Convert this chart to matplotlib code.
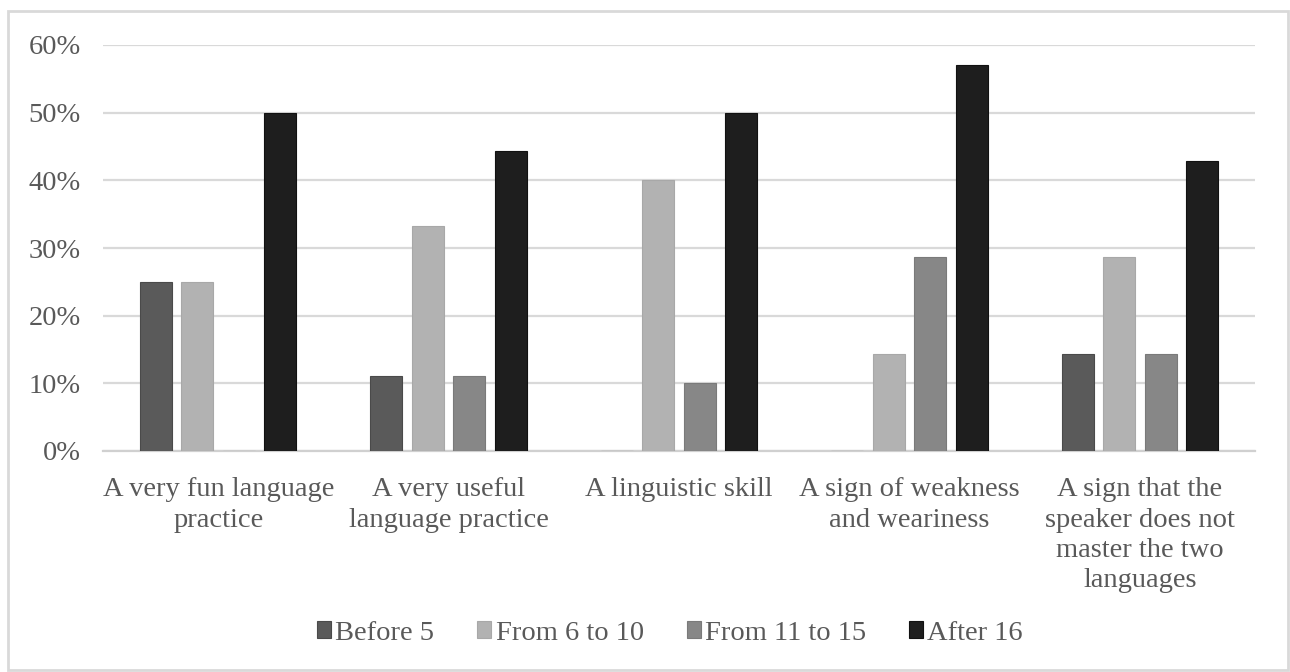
import matplotlib.pyplot as plt
import numpy as np
from matplotlib.patches import Rectangle

plt.rcParams['font.family'] = ['Liberation Serif', 'DejaVu Serif']

categories = ['A very fun language\npractice',
              'A very useful\nlanguage practice',
              'A linguistic skill',
              'A sign of weakness\nand weariness',
              'A sign that the\nspeaker does not\nmaster the two\nlanguages']
series = ['Before 5', 'From 6 to 10', 'From 11 to 15', 'After 16']
before_5 = [25.0, 11.1, 0.0, 0.0, 14.3]
from_6_10 = [25.0, 33.3, 40.0, 14.3, 28.6]
from_11_15 = [0.0, 11.1, 10.0, 28.6, 14.3]
after_16 = [50.0, 44.4, 50.0, 57.1, 42.9]
colors = ['#5a5a5a', '#b2b2b2', '#878787', '#1e1e1e']
edges = ['#4a4a4a', '#a8a8a8', '#7a7a7a', '#111111']

fig = plt.figure(figsize=(12.9, 6.72), dpi=100)
ax = fig.add_axes([103 / 1290, 1 - 451 / 672, 1152 / 1290, 406 / 672])

# light frame around the whole chart
fig.patches.append(Rectangle((8 / 1290, 2 / 672), 1280 / 1290, 659 / 672,
                             transform=fig.transFigure, fill=False,
                             edgecolor='#d9d9d9', linewidth=2))

x = np.arange(len(categories))
width = 0.139
step = 0.18
values = [before_5, from_6_10, from_11_15, after_16]
for i, vals in enumerate(values):
    ax.bar(x + (i - 1.5) * step, vals, width, color=colors[i],
           edgecolor=edges[i], linewidth=0.8, label=series[i], zorder=3)

ax.set_xlim(-0.5, len(categories) - 0.5)
ax.set_ylim(0, 60)
ax.set_yticks(range(0, 61, 10))
ax.set_yticklabels([f'{v}%' for v in range(0, 61, 10)])
ax.yaxis.grid(True, color='#d9d9d9', linewidth=1.6, zorder=0)
ax.set_axisbelow(True)
for s in ['top', 'right', 'left']:
    ax.spines[s].set_visible(False)
ax.spines['bottom'].set_color('#d0d0d0')
ax.spines['bottom'].set_linewidth(1.6)
ax.tick_params(axis='both', length=0, colors='#595959', labelsize=20.5)
ax.tick_params(axis='y', pad=16)
ax.tick_params(axis='x', pad=19)
ax.set_xticks(x)
ax.set_xticklabels(categories, va='top', ha='center', linespacing=1.28)

leg = fig.legend(loc='center', bbox_to_anchor=(670 / 1290, 1 - 633 / 672),
                 ncol=4, frameon=False, fontsize=20.5, handlelength=0.5,
                 handleheight=0.5, handletextpad=0.15, columnspacing=1.5)
for t in leg.get_texts():
    t.set_color('#595959')

fig.savefig('out.png', dpi=100)
